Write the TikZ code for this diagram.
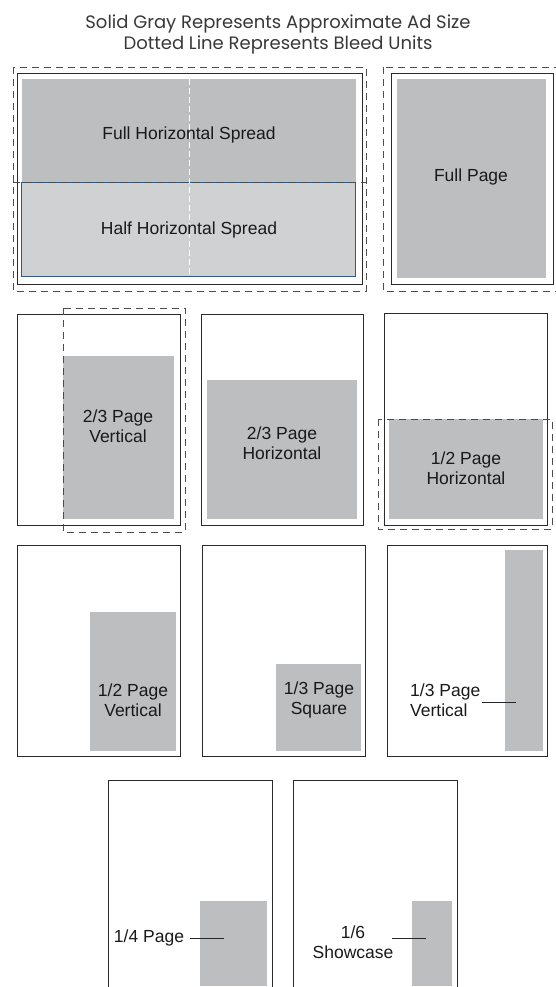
\documentclass[tikz,border=0pt]{standalone}
\usepackage{fontspec}
\setmainfont{Liberation Sans}
\newfontfamily\headfont{Poppins}

\definecolor{adgray}{HTML}{BDBEC0}
\definecolor{halfgray}{HTML}{D0D1D3}
\definecolor{framegray}{HTML}{2B2B2B}
\definecolor{spreadblue}{HTML}{2F5B85}

\tikzset{
  page/.style={draw=framegray, line width=0.9pt},
  bleed/.style={draw=black!70, line width=0.9pt, dash pattern=on 7pt off 5pt},
  adbox/.style={fill=adgray},
  adlabel/.style={font=\fontsize{17.5}{20}\selectfont, align=center, text=black!90, inner sep=0pt},
  leader/.style={draw=black!85, line width=0.8pt},
}

\begin{document}
\begin{tikzpicture}[x=1pt, y=-1pt]
    \useasboundingbox (0,0) rectangle (556,987);
    \clip (0,0) rectangle (556,987);

    \node[font=\headfont\fontsize{18}{21}\selectfont, text=black!78, align=center] (heading) at (278,34)
        {Solid Gray Represents Approximate Ad Size\\Dotted Line Represents Bleed Units};

    % spread and full page
    \draw[bleed] (13,67) rectangle (366,291);
    \draw[page] (17.5,73) rectangle (362,284);
    \fill[adbox] (22,79) rectangle (356,182);
    \filldraw[fill=halfgray, draw=spreadblue, line width=0.8pt] (21,182) rectangle (355.5,276);
    \draw[white, line width=0.8pt, dash pattern=on 6pt off 3pt] (189,79) -- (189,276);
    \draw[bleed] (13,182) -- (366,182);
    \node[adlabel] (fullspread) at (189,135) {Full Horizontal Spread};
    \node[adlabel] (halfspread) at (189,230) {Half Horizontal Spread};

    \draw[bleed] (383,67) rectangle (560,291);
    \draw[page] (391,73) rectangle (553,284);
    \fill[adbox] (397,79) rectangle (546,278);
    \node[adlabel] (fullpage) at (471,177) {Full Page};

    % second row
    \draw[page] (17,314) rectangle (180,525);
    \fill[adbox] (63,356) rectangle (174,519);
    \draw[bleed] (63,308) rectangle (185,532);
    \node[adlabel] (twothirdsv) at (118,426) {2/3 Page\\Vertical};

    \draw[page] (201,314) rectangle (363,525);
    \fill[adbox] (207,380) rectangle (357,519);
    \node[adlabel] (twothirdsh) at (282,443) {2/3 Page\\Horizontal};

    \draw[page] (384,313) rectangle (547,525);
    \fill[adbox] (389,419) rectangle (543,519);
    \draw[bleed] (378,419) rectangle (552,529);
    \node[adlabel] (halfh) at (466,468) {1/2 Page\\Horizontal};

    % third row
    \draw[page] (17,545) rectangle (180,756);
    \fill[adbox] (90,612) rectangle (176,751);
    \node[adlabel] (halfv) at (133,700) {1/2 Page\\Vertical};

    \draw[page] (202,545) rectangle (365,756);
    \fill[adbox] (276,664) rectangle (361,751);
    \node[adlabel] (thirdsq) at (319,700) {1/3 Page\\Square};

    \draw[page] (387,545) rectangle (547,756);
    \fill[adbox] (505,550) rectangle (543,751);
    \node[adlabel, align=left, anchor=west] (thirdv) at (410,700) {1/3 Page\\Vertical};
    \coordinate (thirdvfrom) at (482,702);
    \coordinate (thirdvto) at (516,702);
    \draw[leader] (thirdvfrom) -- (thirdvto);

    % fourth row
    \draw[page] (108,780) rectangle (272,991);
    \fill[adbox] (200,901) rectangle (267,986);
    \node[adlabel] (quarter) at (149,938) {1/4 Page};
    \coordinate (quarterto) at (224,938);
    \draw[leader] (quarter.east) ++(6,0) -- (quarterto);

    \draw[page] (293,780) rectangle (457,991);
    \fill[adbox] (412,901) rectangle (452,986);
    \node[adlabel] (showcase) at (353,942) {1/6\\Showcase};
    \coordinate (showcasefrom) at (392,938);
    \coordinate (showcaseto) at (426,938);
    \draw[leader] (showcasefrom) -- (showcaseto);

\end{tikzpicture}
\end{document}
